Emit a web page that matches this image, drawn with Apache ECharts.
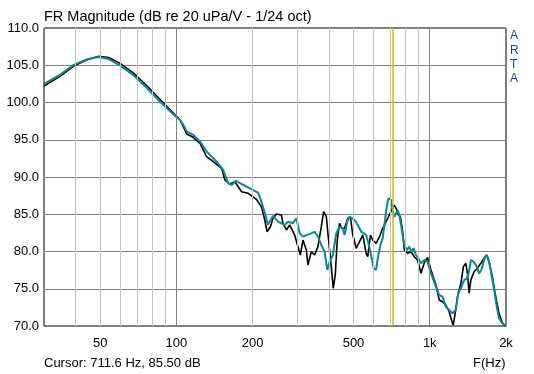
<!DOCTYPE html>
<html>
<head>
<meta charset="utf-8">
<script src="https://cdn.jsdelivr.net/npm/echarts@6/dist/echarts.min.js"></script>
<style>
html,body{margin:0;padding:0;background:#fff;}
#c{width:534px;height:374px;}
</style>
</head>
<body>
<div id="c"></div>
<script>
// ---- data ----
var blackFreq = [30,34.8,39.3,44.4,49.3,53.9,60,67.7,76.4,86.2,100.3,103.3,109.8,116.5,123.9,131.6,139.7,150.8,155.3,162.5,170.1,180.7,191.9,207,216.6,223.2,227.9,235,240.6,248.1,259.6,263.4,271.7,280,292.9,301.8,308.4,315.8,325.7,330.4,340.8,351.2,361.8,373.2,381.1,390.6,398.6,408.6,415.9,423.6,431.3,440.5,449.8,460.9,474.9,486.6,496.9,512.4,528,544,561,569.2,583.2,595.5,614.2,632.9,652,672.4,692.8,707.5,725,736.2,751.7,765.5,781.6,793.6,817.7,843.3,868.9,895.3,923.3,951.4,980.2,1011,1058,1090,1123,1158,1193,1218,1237,1257,1287,1327,1358,1388,1409,1430,1453,1497,1542,1591,1639,1680,1715,1767,1806,1849,1877,1911,1946,2000];
var blackDb = [102.2,103.55,104.9,105.75,106.2,106.05,105.25,103.95,102.25,100.4,98.1,97.65,95.77,95.33,94.52,92.72,92.05,91.17,89.6,89.06,89.37,88.03,87.81,87.0,86.01,84.23,82.66,83.33,84.46,85.03,84.9,83.78,82.89,83.56,82.21,80.65,79.53,81.54,80.2,78.19,79.97,79.53,80.65,83.33,85.34,84.67,81.54,77.97,75.06,76.85,81.54,83.78,83.11,83.11,84.45,84.54,82.21,80.43,81.32,82.21,79.76,79.3,82.21,81.54,81.1,81.99,83.11,84.0,84.9,85.57,86.24,85.8,84.9,84.67,82.66,80.2,79.76,79.97,79.3,78.86,77.07,78.5,79.2,77.52,75.5,73.5,73.26,72.82,71.92,70.8,70.13,71.48,73.93,75.73,77.97,78.42,77.07,74.39,76.17,77.3,77.75,78.42,79.09,79.53,78.64,76.62,74.61,72.82,71.7,70.9,70.3,69.9];

var tealFreq = [30,34.8,39.3,44.4,49.3,53.9,60,67.7,76.4,86.2,100.3,103.3,106.5,109.8,116.5,123.9,131.6,144.1,153,160.1,165.1,171.7,180.7,194.9,210.1,216.6,225.3,229.5,240.6,251.8,267.6,275.7,288.4,297.5,306.5,315.8,325.7,340.8,351.2,361.8,373.2,384.5,394,402.3,414.5,427.5,440.5,453.9,460.9,472.3,482.3,504.6,519.9,536.2,544,561,572.8,587,601,614.2,623.2,638.6,652,662.2,672.4,682.3,688.5,703.7,714,725,736.2,746.9,758.6,770.3,781.6,793.6,813.4,830.5,843.3,863.4,882.5,901.1,923.3,951.4,980.2,1011,1058,1090,1123,1158,1193,1229,1268,1295,1327,1367,1401,1430,1453,1488,1534,1566,1599,1639,1669,1699,1730,1767,1806,1839,1877,1929,2000];
var tealDb = [102.5,103.75,105.05,105.8,106.1,105.85,104.95,103.65,101.95,100.1,98.0,97.65,97.0,96.1,95.65,94.77,93.43,92.05,90.94,89.15,88.93,89.5,89.06,88.48,87.9,86.7,84.7,83.6,84.77,84.0,83.56,84.0,83.8,84.45,82.44,81.99,82.2,82.44,82.66,81.99,80.87,79.97,77.52,78.63,79.53,82.44,83.33,83.11,82.2,84.0,84.67,84.23,83.56,82.66,82.89,82.21,81.1,79.53,77.75,77.52,79.09,80.87,81.77,83.56,85.34,86.78,87.14,86.9,85.57,84.67,85.1,85.57,84.9,83.56,82.21,80.87,80.2,80.65,79.97,80.43,79.53,79.09,78.42,78.86,78.64,77.07,75.28,74.16,73.93,72.59,72.15,71.7,72.15,74.39,75.06,76.17,76.4,77.3,78.86,78.64,77.97,77.07,77.52,78.86,79.53,79.09,77.97,76.17,74.39,72.59,71.03,70.4,70.0];

var cursorFreq = 711.6;
var cursorText = 'Cursor: 711.6 Hz, 85.50 dB';
var xTickValues = [50, 100, 200, 500, 1000, 2000];
var xTickLabels = ['50', '100', '200', '500', '1k', '2k'];
var minorGridFreqs = [40,50,60,70,80,90,200,300,400,500,600,700,800,900];
var majorGridFreqs = [100, 1000];
var yTicks = {min: 70, max: 110, step: 5};
var titleText = 'FR Magnitude (dB re 20 uPa/V - 1/24 oct)';

// ---- build ----
function zip(a, b) { return a.map(function (v, i) { return [v, b[i]]; }); }

var FONT = '"Liberation Sans", Arial, sans-serif';
var chart = echarts.init(document.getElementById('c'), null, {renderer: 'canvas'});

var gridLines = [];
minorGridFreqs.forEach(function (f) {
  gridLines.push({xAxis: f, lineStyle: {color: '#c4c4c4', width: 1, type: 'solid'}});
});
majorGridFreqs.forEach(function (f) {
  gridLines.push({xAxis: f, lineStyle: {color: '#808080', width: 1, type: 'solid'}});
});

var tickLines = xTickValues.map(function (f, i) {
  return {xAxis: f, lineStyle: {color: 'rgba(0,0,0,0)', width: 0},
    label: {show: true, position: 'start', formatter: xTickLabels[i], distance: 11,
      color: '#000', fontSize: 13, fontFamily: FONT}};
});

chart.setOption({
  animation: false,
  backgroundColor: '#fff',
  grid: {left: 44, right: 28, top: 28, bottom: 48, show: true, borderColor: '#000', borderWidth: 1, backgroundColor: 'transparent'},
  xAxis: {
    type: 'log', logBase: 10, min: 30, max: 2000,
    axisLine: {show: false}, axisTick: {show: false}, axisLabel: {show: false},
    splitLine: {show: false}
  },
  yAxis: {
    type: 'value', min: yTicks.min, max: yTicks.max, interval: yTicks.step,
    axisLine: {show: false}, axisTick: {show: false},
    axisLabel: {formatter: function (v) { return v.toFixed(1); }, color: '#000', fontSize: 13, fontFamily: FONT, margin: 5},
    splitLine: {show: true, lineStyle: {color: '#808080', width: 1}}
  },
  graphic: [
    {type: 'text', left: 44, top: 9, style: {text: titleText, font: '14.5px ' + FONT, fill: '#000'}},
    {type: 'text', left: 44, top: 357, style: {text: cursorText, font: '13px ' + FONT, fill: '#000'}},
    {type: 'text', left: 473, top: 357, style: {text: 'F(Hz)', font: '13px ' + FONT, fill: '#000'}},
    {type: 'text', left: 510, top: 29, style: {text: 'A\nR\nT\nA', font: '12px ' + FONT, fill: '#1f3f8f', lineHeight: 14.3}}
  ],
  series: [
    {
      type: 'line', z: 1, data: [[30, 70]], symbol: 'none', lineStyle: {opacity: 0}, silent: true,
      markLine: {silent: true, symbol: 'none', animation: false, label: {show: false},
        data: gridLines}
    },
    {
      type: 'line', z: 1, data: [[30, 70]], symbol: 'none', lineStyle: {opacity: 0}, silent: true,
      markLine: {silent: true, symbol: 'none', animation: false,
        label: {show: true, position: 'start', color: '#000', fontSize: 13, fontFamily: FONT},
        lineStyle: {color: 'rgba(0,0,0,0)', width: 0},
        data: tickLines}
    },
    {
      type: 'line', z: 2, data: [[cursorFreq, 70]], symbol: 'none', lineStyle: {opacity: 0}, silent: true,
      markLine: {silent: true, symbol: 'none', animation: false, label: {show: false},
        data: [{xAxis: cursorFreq, lineStyle: {color: '#c8c000', width: 1.5, type: 'solid'}}]}
    },
    {
      name: 'black', type: 'line', z: 3, data: zip(blackFreq, blackDb), symbol: 'none', smooth: false,
      lineStyle: {color: '#000', width: 1.6}
    },
    {
      name: 'teal', type: 'line', z: 4, data: zip(tealFreq, tealDb), symbol: 'none', smooth: false,
      lineStyle: {color: '#0a8a8c', width: 2}
    }
  ]
});
</script>
</body>
</html>
